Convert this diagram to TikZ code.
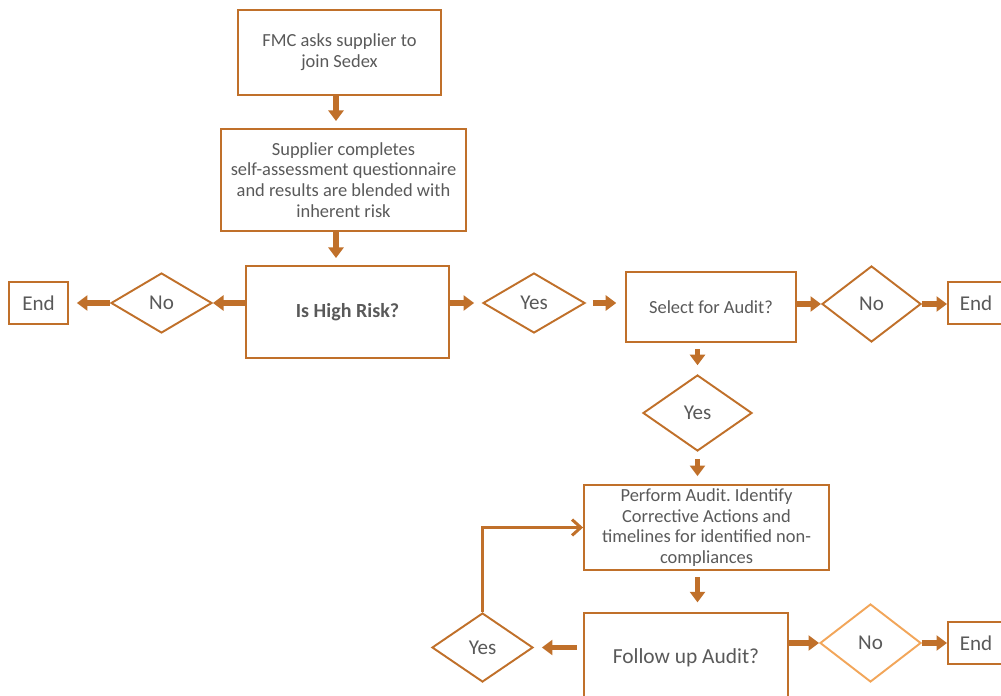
\documentclass[tikz,border=0pt]{standalone}
\usepackage{fontspec}
\setmainfont{Carlito}
\frenchspacing
\usetikzlibrary{shapes.geometric,arrows.meta}
\definecolor{brd}{HTML}{C0702A}
\definecolor{lightbrd}{HTML}{F2A65A}
\definecolor{txt}{HTML}{595959}
\begin{document}
\begin{tikzpicture}[x=0.02cm,y=-0.02cm,
  box/.style={draw=brd,line width=1.1pt,rectangle,align=center,text=txt,inner sep=2pt,
    font=\fontsize{10.5}{11.8}\selectfont},
  dia/.style={draw=brd,line width=1.1pt,diamond,inner sep=0pt,text=txt,
    font=\fontsize{12}{14}\selectfont},
  endbox/.style={draw=brd,line width=1.1pt,rectangle,text=txt,inner sep=0pt,
    minimum width=1.18cm,minimum height=0.84cm,font=\fontsize{12}{14}\selectfont},
  blk/.style={draw=brd,line width=3pt,-{Triangle[length=6pt,width=8.5pt]}},
  thin/.style={draw=brd,line width=1.7pt,line join=miter,-{Straight Barb[length=5pt,width=9pt,line width=1.7pt]}}
]
\useasboundingbox (0,0) rectangle (1001,696);
\clip (0,0) rectangle (1001,696);

\node[box,minimum width=4.06cm,minimum height=1.70cm] (b1) at (339.5,52.5) {FMC asks supplier to\\join Sedex};
\node[box,minimum width=4.90cm,minimum height=2.04cm] (b2) at (343.5,180) {Supplier completes\\self-assessment questionnaire\\and results are blended with\\inherent risk};
\node[box,minimum width=4.06cm,minimum height=1.84cm,font=\fontsize{11.4}{13}\selectfont\bfseries] (b3) at (347.5,312) {Is High Risk?};
\node[dia,minimum width=2.02cm,minimum height=1.20cm] (nol) at (161.5,303) {No};
\node[endbox] (endl) at (38.5,303) {End};
\node[dia,minimum width=2.04cm,minimum height=1.20cm] (yes1) at (534,303) {Yes};
\node[box,minimum width=3.40cm,minimum height=1.40cm] (sel) at (711,307) {Select for Audit?};
\node[dia,minimum width=1.98cm,minimum height=1.52cm] (no2) at (871.5,304) {No};
\node[endbox,minimum width=1.24cm] (endr) at (979,303) {\hspace*{-0.12cm}End};
\node[dia,minimum width=2.18cm,minimum height=1.52cm] (yes2) at (697.5,413) {Yes};
\node[box,minimum width=4.90cm,minimum height=1.70cm] (perf) at (706.5,527.5) {Perform Audit. Identify\\Corrective Actions and\\timelines for identified non-\\compliances};
\node[box,minimum width=4.08cm,minimum height=1.80cm,font=\fontsize{12.2}{14}\selectfont] (fol) at (686,658) {\raisebox{2pt}{Follow up Audit?}};
\node[dia,minimum width=2.02cm,minimum height=1.38cm] (yes3) at (482.5,647.5) {Yes};
\node[dia,draw=lightbrd,minimum width=2.02cm,minimum height=1.56cm] (no3) at (870.5,643) {No};
\node[endbox,minimum width=1.24cm] (endb) at (979,643) {\hspace*{-0.12cm}End};

% block arrows
\draw[blk,shorten >=4pt] (b1.south -| 336,0) -- (b2.north -| 336,0);
\draw[blk,shorten >=4pt] (b2.south -| 336,0) -- (b3.north -| 336,0);
\draw[blk] (b3.west |- nol.east) -- (nol.east);
\draw[blk,shorten >=4.5pt] (nol.west) -- (endl.east);
\draw[blk,shorten >=4.5pt] (b3.east |- yes1.west) -- (yes1.west);
\draw[blk,shorten <=4pt,shorten >=5pt] (yes1.east) -- (yes1.east -| sel.west);
\draw[blk] (sel.east |- no2.west) -- (no2.west);
\draw[blk] (no2.east) -- (endr.west |- no2.east);
\draw[blk,shorten <=3.5pt,shorten >=5pt] (sel.south -| yes2.north) -- (yes2.north);
\draw[blk,shorten <=4pt,shorten >=4.5pt] (yes2.south) -- (yes2.south |- perf.north);
\draw[blk,shorten <=3.5pt,shorten >=5.5pt] (perf.south -| yes2.south) -- (fol.north -| yes2.south);
\draw[blk,shorten <=3.5pt,shorten >=4.5pt] (fol.west |- yes3.east) -- (yes3.east);
\draw[blk] (fol.east |- no3.west) -- (no3.west);
\draw[blk] (no3.east) -- (endb.west |- no3.east);

% loop back
\draw[thin] (yes3.north) |- (perf.west);
\end{tikzpicture}
\end{document}
